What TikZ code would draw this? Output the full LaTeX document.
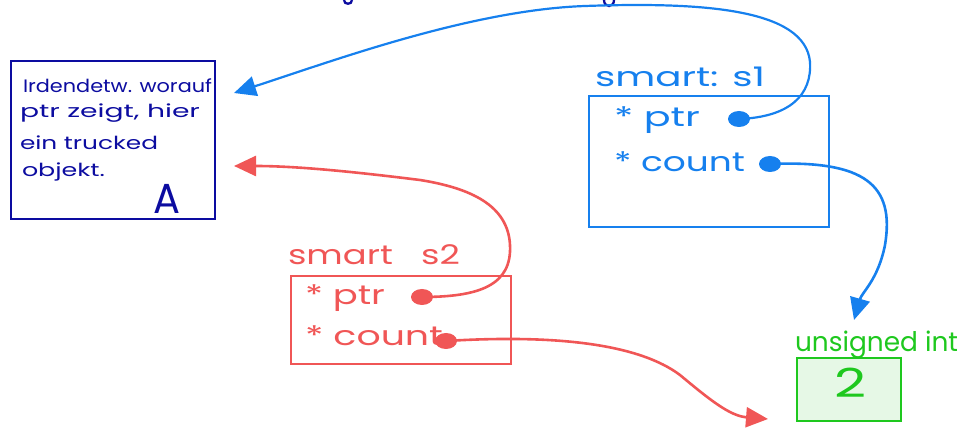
\documentclass[tikz,border=0pt]{standalone}
\usepackage{fontspec}
\usepackage{graphicx}
\setmainfont{Poppins}
\usetikzlibrary{arrows.meta,shapes.geometric}
\definecolor{navy}{RGB}{12,12,160}
\definecolor{sblue}{RGB}{22,128,238}
\definecolor{sred}{RGB}{240,86,86}
\definecolor{sgreen}{RGB}{30,200,30}
\definecolor{sgfill}{RGB}{230,248,230}
\newcommand{\hw}[2]{\resizebox{#1}{\height}{#2}}
\begin{document}
\begin{tikzpicture}[x=1pt,y=-1pt,
  box/.style={draw,line width=2.3pt},
  txt/.style={anchor=base west,inner sep=0pt,outer sep=0pt},
  big/.style={txt,font=\fontsize{27}{30}\selectfont},
  small/.style={txt,font=\fontsize{18}{20}\selectfont},
  dotc/.style={fill,ellipse,inner sep=0pt,minimum width=22pt,minimum height=16pt},
  conn/.style={line width=2.6pt,-{Triangle[length=22pt,width=20pt]}}
]
\useasboundingbox (0,0) rectangle (967,438);

% Box A
\node[box,draw=navy,minimum width=204pt,minimum height=158pt,anchor=north west,inner sep=0pt] (A) at (10,60) {};
\node[small,text=navy] (a1) at (23,93) {\hw{189pt}{Irdendetw. worauf}};
\node[small,text=navy] (a2) at (20,118) {\hw{180pt}{ptr zeigt, hier}};
\node[small,text=navy] (a3) at (20,150) {\hw{138pt}{ein trucked}};
\node[small,text=navy] (a4) at (22,177) {\hw{83pt}{objekt.}};
\node[txt,text=navy,font=\fontsize{42}{44}\selectfont] (aA) at (153,214) {\hw{27pt}{A}};

% fragments at top
\draw[navy,line width=2.3pt] (344,0) .. controls (344,5) and (352,5) .. (352,0);
\draw[navy,line width=2.3pt] (604,0) .. controls (604,8) and (614,8) .. (614,0);

% smart s1
\node[box,draw=sblue,minimum width=240pt,minimum height=131pt,anchor=north west,inner sep=0pt] (S1) at (588,95) {};
\node[big,text=sblue] (s1lab) at (595,87) {\hw{170pt}{smart: s1}};
\node[big,text=sblue] (s1p) at (614,127) {\hw{86pt}{* ptr}};
\node[big,text=sblue] (s1c) at (614,172) {\hw{131pt}{* count}};
\node[dotc,fill=sblue] (s1pd) at (739,119) {};
\node[dotc,fill=sblue] (s1cd) at (770,164) {};

% smart s2
\node[box,draw=sred,minimum width=220pt,minimum height=88pt,anchor=north west,inner sep=0pt] (S2) at (290,275) {};
\node[big,text=sred] (s2lab) at (288,265) {\hw{172pt}{smart\ \ \ s2}};
\node[big,text=sred] (s2p) at (305,305) {\hw{80pt}{* ptr}};
\node[big,text=sred] (s2c) at (305,346) {\hw{138pt}{* count}};
\node[dotc,fill=sred] (s2pd) at (422,297) {};
\node[dotc,fill=sred] (s2cd) at (446,341) {};

% unsigned int
\node[box,draw=sgreen,fill=sgfill,minimum width=104pt,minimum height=63pt,anchor=north west,inner sep=0pt] (U) at (796,357) {};
\node[big,text=sgreen] (ulab) at (795,352) {\hw{163pt}{unsigned int}};
\node[txt,text=sgreen,font=\fontsize{40}{44}\selectfont] (u2) at (834,398) {\hw{32pt}{2}};

% targets
\coordinate (tA1) at (234,93);
\coordinate (tA2) at (234,166);
\coordinate (tU) at (854,320);
\coordinate (tR) at (768,419);

% connectors
\draw[conn,sblue,line width=2.2pt] (s1pd.center) .. controls (790,117) and (812,95) .. (810,62)
  .. controls (805,8) and (700,2) .. (585,6)
  .. controls (470,10) and (330,62) .. (tA1);
\draw[conn,sblue] (s1cd.center) .. controls (865,160) and (895,185) .. (885,245)
  .. controls (878,280) and (862,292) .. (tU);
\draw[conn,sred] (s2pd.center) .. controls (480,297) and (512,285) .. (510,245)
  .. controls (508,205) and (470,188) .. (420,180)
  .. controls (340,170) and (290,166) .. (tA2);
\draw[conn,sred] (s2cd.center) .. controls (560,334) and (640,345) .. (680,375)
  .. controls (710,400) and (730,416) .. (tR);
\end{tikzpicture}
\end{document}
